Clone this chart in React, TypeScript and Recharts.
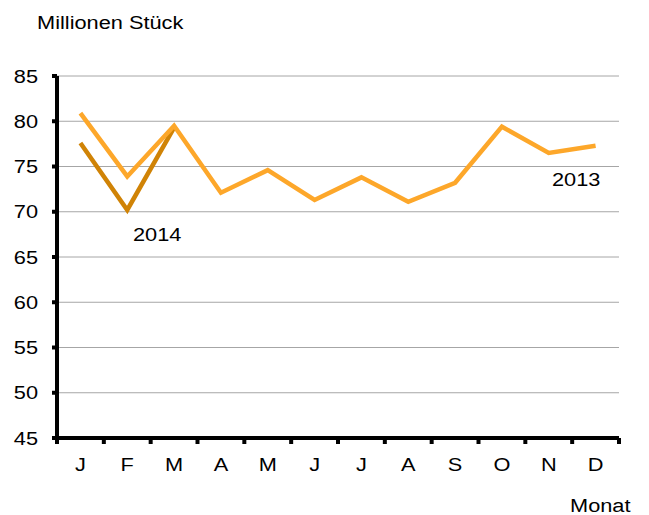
import React from 'react';
import { LineChart, Line, XAxis, YAxis, CartesianGrid } from 'recharts';

const months = ['J', 'F', 'M', 'A', 'M', 'J', 'J', 'A', 'S', 'O', 'N', 'D'];
const sales2013 = [80.9, 73.9, 79.5, 72.1, 74.6, 71.3, 73.8, 71.1, 73.2, 79.4, 76.5, 77.3];
const sales2014 = [77.6, 70.2, 79.3];
const yTicks = [45, 50, 55, 60, 65, 70, 75, 80, 85];

const data = months.map((m, i) => ({
  idx: i,
  y2013: sales2013[i],
  y2014: i < sales2014.length ? sales2014[i] : null,
}));

const W = 649;
const H = 515;
const M = { top: 76, right: 30, bottom: 0, left: 0 };
const Y_W = 57;
const BAND = (W - M.right - M.left - Y_W) / months.length;
const FONT = '"Liberation Sans", Arial, sans-serif';
const SX = 1.21;

// text in the original is a bit wider than Arial, so stretch it horizontally
const Stretched = ({ x, y, anchor = 'start', children }: any) => (
  <text transform={`translate(${x},${y}) scale(${SX},1)`} textAnchor={anchor}>
    {children}
  </text>
);

const MonthTick = ({ x, y, payload, index }: any) => (
  <g fontSize={18} fontFamily={FONT} fill="#000">
    <Stretched x={x} y={y + 33} anchor="middle">
      {months[payload.value]}
    </Stretched>
    <line x1={x - BAND / 2} x2={x - BAND / 2} y1={y} y2={y + 6} stroke="#000" strokeWidth={4} />
    {index === months.length - 1 && (
      <line x1={x + BAND / 2} x2={x + BAND / 2} y1={y} y2={y + 6} stroke="#000" strokeWidth={4} />
    )}
  </g>
);

const ValueTick = ({ x, y, payload }: any) => (
  <g fontSize={18} fontFamily={FONT} fill="#000">
    <Stretched x={x} y={y + 6.5} anchor="end">
      {payload.value}
    </Stretched>
  </g>
);

export default function App() {
  return (
    <div style={{ position: 'relative', width: W, height: H, background: '#fff' }}>
      <style>{'body{margin:0}'}</style>
      <LineChart width={W} height={H} data={data} margin={M}>
        <CartesianGrid vertical={false} stroke="#a6a6a6" />
        <XAxis
          dataKey="idx"
          type="category"
          padding={{ left: BAND / 2, right: BAND / 2 }}
          height={H - 438}
          tickSize={0}
          tickMargin={0}
          tickLine={false}
          axisLine={{ stroke: '#000', strokeWidth: 4 }}
          tick={<MonthTick />}
          interval={0}
        />
        <YAxis
          domain={[45, 85]}
          ticks={yTicks}
          width={Y_W}
          tickSize={5}
          tickMargin={14}
          axisLine={{ stroke: '#000', strokeWidth: 4 }}
          tickLine={{ stroke: '#000', strokeWidth: 4 }}
          tick={<ValueTick />}
          interval={0}
        />
        <Line
          dataKey="y2014"
          stroke="#d08306"
          strokeWidth={4.5}
          dot={false}
          strokeLinejoin="miter"
          isAnimationActive={false}
        />
        <Line
          dataKey="y2013"
          stroke="#fda72a"
          strokeWidth={4.5}
          dot={false}
          strokeLinejoin="miter"
          isAnimationActive={false}
        />
      </LineChart>
      <svg
        width={W}
        height={H}
        style={{ position: 'absolute', left: 0, top: 0, pointerEvents: 'none' }}
        fontFamily={FONT}
        fontSize={18}
        fill="#000"
      >
        <Stretched x={37} y={29}>Millionen Stück</Stretched>
        <Stretched x={133} y={241}>2014</Stretched>
        <Stretched x={552} y={186}>2013</Stretched>
        <Stretched x={570} y={512}>Monat</Stretched>
      </svg>
    </div>
  );
}
